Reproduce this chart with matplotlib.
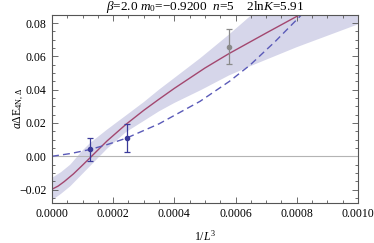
import numpy as np
import matplotlib
matplotlib.use('Agg')
import matplotlib.pyplot as plt
from matplotlib.ticker import MultipleLocator, FormatStrFormatter

plt.rcParams['font.family'] = ['Liberation Serif', 'DejaVu Serif']
plt.rcParams['mathtext.fontset'] = 'custom'
plt.rcParams['mathtext.rm'] = 'Liberation Serif'
plt.rcParams['mathtext.it'] = 'Liberation Serif:italic'

# data points (1/L^3, a dE, err)
pts_x = [0.000125, 0.000244]
pts_y = [0.0041, 0.0108]
pts_err = [0.0070, 0.0085]
out_x = [0.000578]
out_y = [0.0659]
out_err = [0.0106]

# fit curve (solid)
fit_x = [0, 0.00002, 0.00004, 0.00007, 0.0001, 0.000125, 0.00018, 0.000242, 0.0003,
         0.00035, 0.0004, 0.0005, 0.000578, 0.0007, 0.0008, 0.00085]
fit_y = [-0.0198, -0.0179, -0.0152, -0.0106, -0.0053, -0.0008, 0.0092, 0.0192, 0.0276,
         0.0343, 0.0408, 0.0530, 0.0616, 0.0740, 0.0840, 0.0890]

# error band
band_x = [0, 0.00003, 0.00006, 0.0001, 0.000125, 0.00018, 0.000242, 0.0003, 0.00035,
          0.0004, 0.000484, 0.0005, 0.000578, 0.000647, 0.0008, 0.001]
band_lo = [-0.0265, -0.0225, -0.018, -0.0105, -0.0058, 0.0045, 0.0145, 0.0212, 0.0270,
           0.0320, 0.0395, 0.0410, 0.0485, 0.0540, 0.0655, 0.0792]
band_hi = [-0.0130, -0.0095, -0.0050, 0.0035, 0.0080, 0.0160, 0.0245, 0.0325, 0.0400,
           0.0470, 0.0588, 0.0612, 0.0730, 0.0840, 0.1060, 0.1350]

# dashed curve
dash_x = [0, 0.0000625, 0.000125, 0.00018, 0.000242, 0.00035, 0.000484, 0.00058,
          0.000647, 0.00073, 0.000816, 0.00085]
dash_y = [0, 0.0017, 0.0041, 0.0070, 0.0108, 0.0195, 0.0330, 0.0450, 0.0547, 0.0690,
          0.0850, 0.0910]

fig = plt.figure(figsize=(3.74, 2.43), dpi=100)
ax = fig.add_axes([0.139, 0.165, 0.818, 0.773])

ax.fill_between(band_x, band_lo, band_hi, color='#d6d6ea', lw=0)
ax.axhline(0, color='#b4b4b4', lw=0.8)
ax.plot(fit_x, fit_y, color='#a3476f', lw=1.0)
ax.plot(dash_x, dash_y, color='#5a5ab8', lw=1.0, dashes=(5, 3))
ax.errorbar(pts_x, pts_y, yerr=pts_err, fmt='o', color='#3a3a9a', ms=3,
            capsize=2.5, elinewidth=0.9, capthick=0.9)
ax.errorbar(out_x, out_y, yerr=out_err, fmt='o', color='#8a8a8a', ms=3,
            capsize=2.5, elinewidth=0.9, capthick=0.9)

ax.set_xlim(0, 0.001)
ax.set_ylim(-0.028, 0.0848)
ax.xaxis.set_major_locator(MultipleLocator(0.0002))
ax.xaxis.set_minor_locator(MultipleLocator(0.00005))
ax.yaxis.set_major_locator(MultipleLocator(0.02))
ax.yaxis.set_minor_locator(MultipleLocator(0.005))
ax.xaxis.set_major_formatter(FormatStrFormatter('%.4f'))
ax.yaxis.set_major_formatter(matplotlib.ticker.FuncFormatter(
    lambda v, p: ('\u2212%.2f' % -v) if v < -1e-9 else '%.2f' % abs(v)))

for s in ax.spines.values():
    s.set_color('#555555')
    s.set_linewidth(0.8)
ax.tick_params(which='both', direction='in', top=True, right=True,
               color='#555555', labelsize=8.5, width=0.6)
ax.tick_params(which='major', length=4, pad=4)
ax.tick_params(which='minor', length=2)

ax.set_title(r'$\beta$=2.0 $m_0$=$-$0.9200  $n$=5    2ln$K$=5.91', fontsize=9.5, pad=0.5)
ax.set_xlabel(r'1/$L^3$', fontsize=8.5, labelpad=6)
ax.set_ylabel(r'$a\Delta\mathrm{E}_{4\mathrm{N},\Delta}$', fontsize=8.5)
ax.yaxis.set_label_coords(-0.085, 0.5)

plt.savefig('out.png', dpi=100)
